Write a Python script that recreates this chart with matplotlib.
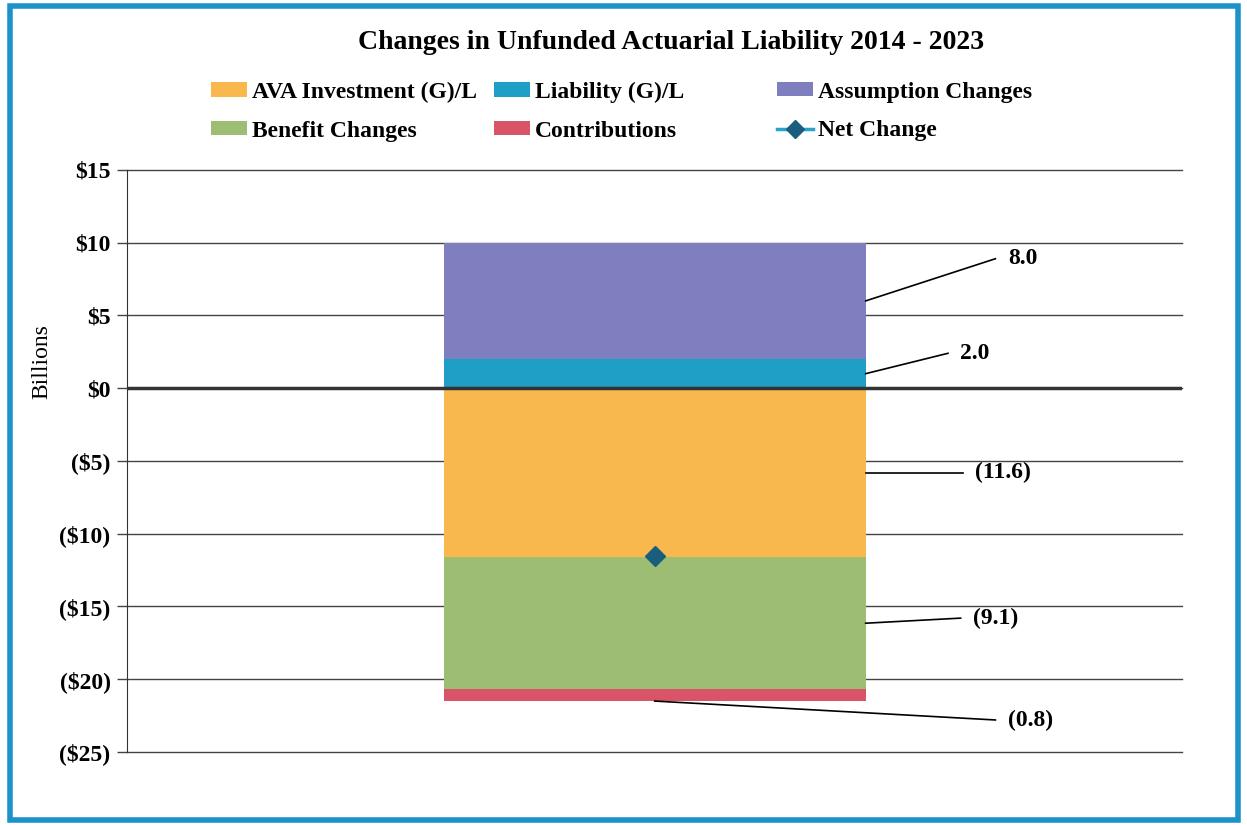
import matplotlib.pyplot as plt
from matplotlib.patches import Rectangle
from matplotlib.lines import Line2D
from matplotlib.patches import Patch

plt.rcParams['font.family'] = ['Liberation Serif', 'DejaVu Serif']

# data (billions)
series = ['AVA Investment (G)/L', 'Liability (G)/L', 'Assumption Changes',
          'Benefit Changes', 'Contributions']
values = [-11.6, 2.0, 8.0, -9.1, -0.8]
colors = ['#F8B84E', '#1E9FC6', '#7F7FBF', '#9CBD72', '#D95468']
value_labels = ['(11.6)', '2.0', '8.0', '(9.1)', '(0.8)']
net_change = sum(values)

yticks = [15, 10, 5, 0, -5, -10, -15, -20, -25]
ytick_labels = ['$15', '$10', '$5', '$0', '($5)', '($10)', '($15)', '($20)', '($25)']

fig = plt.figure(figsize=(12.47, 8.25), dpi=100)
ax = fig.add_axes([0.102, 0.0885, 0.846, 0.7055])

bar_w = 0.4
pos_base, neg_base = 0.0, 0.0
segments = []
for name, v, c in zip(series, values, colors):
    if v >= 0:
        bottom = pos_base
        pos_base += v
    else:
        bottom = neg_base
        neg_base += v
    ax.bar(0, v, bottom=bottom, width=bar_w, color=c, zorder=2)
    segments.append((bottom, bottom + v))

ax.plot([0], [net_change], color='#2AA3CB', marker='D', markersize=10,
        markerfacecolor='#1A5E7E', markeredgecolor='#1A5E7E', zorder=4)

ax.set_xlim(-0.5, 0.5)
ax.set_ylim(-25, 15)
ax.set_yticks(yticks)
ax.set_yticklabels(ytick_labels, fontsize=17, fontweight='bold')
ax.set_xticks([])
ax.yaxis.grid(True, color='#444444', linewidth=1)
for gl in ax.get_ygridlines():
    gl.set_clip_on(False)
ax.set_axisbelow(True)
ax.axhline(0, color='#333333', linewidth=2.5, zorder=3)
ax.tick_params(axis='y', direction='out', length=7, width=1, color='#444444', pad=5)
for s in ['top', 'right', 'bottom']:
    ax.spines[s].set_visible(False)
ax.spines['left'].set_color('#333333')
ax.set_ylabel('Billions', fontsize=17)
ax.yaxis.set_label_coords(-0.071, 0.67)

# leader lines and value labels: (line end x, line end y) per segment
label_ends = [(0.292, -5.8), (0.278, 2.4), (0.323, 8.9), (0.290, -15.8), (0.323, -22.8)]
for i, ((b, t), lbl, (ex, ey)) in enumerate(zip(segments, value_labels, label_ends)):
    if i == len(segments) - 1:
        sx, sy = 0.0, t
    else:
        sx, sy = bar_w / 2, (b + t) / 2
    ax.plot([sx, ex], [sy, ey], color='black', linewidth=1.2, zorder=5)
    ax.annotate(lbl, xy=(ex, ey), xytext=(9, 0), textcoords='offset points',
                ha='left', va='center', fontsize=17, fontweight='bold')

fig.text(0.538, 0.949, 'Changes in Unfunded Actuarial Liability 2014 - 2023',
         ha='center', va='center', fontsize=20, fontweight='bold')

# legend in three columns
handles = [Patch(facecolor=c) for c in colors]
net_handle = Line2D([], [], color='#2AA3CB', linewidth=2.5, marker='D', markersize=9,
                    markerfacecolor='#1A5E7E', markeredgecolor='#1A5E7E')
cols = [([handles[0], handles[3]], [series[0], series[3]], 0.169),
        ([handles[1], handles[4]], [series[1], series[4]], 0.396),
        ([handles[2], net_handle], [series[2], 'Net Change'], 0.623)]
for hs, ls, x0 in cols:
    fig.legend(hs, ls, loc='upper left', bbox_to_anchor=(x0, 0.901), frameon=False,
               prop={'size': 17, 'weight': 'bold'}, handlelength=1.55, handleheight=0.55,
               handletextpad=0.2, labelspacing=0.75, borderpad=0, borderaxespad=0)

# blue frame
fig.patches.append(Rectangle((0.008, 0.006), 0.985, 0.987, transform=fig.transFigure,
                             fill=False, edgecolor='#1C93C8', linewidth=4))

fig.savefig('out.png', dpi=100)
